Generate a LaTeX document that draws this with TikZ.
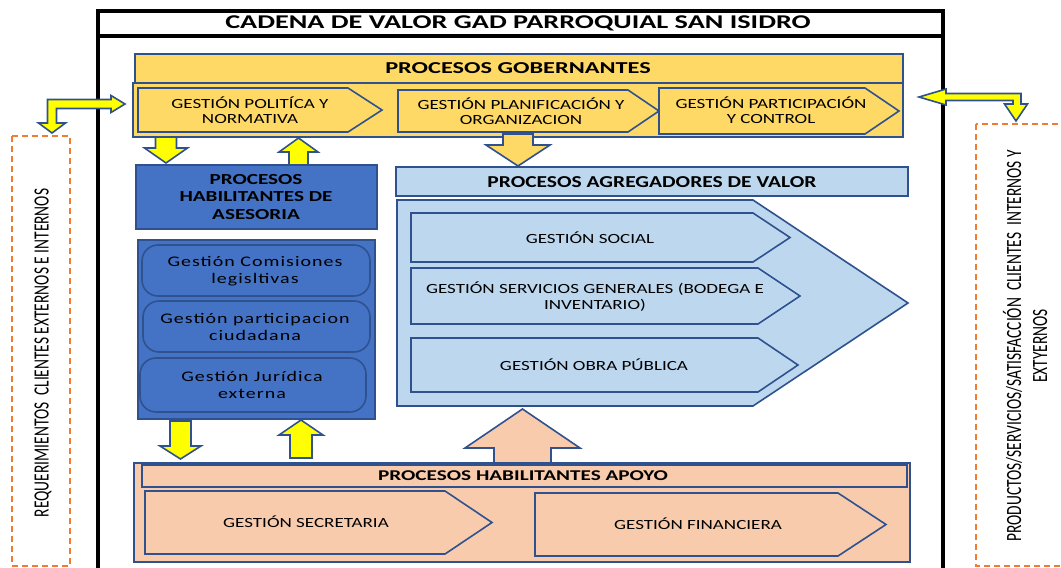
\documentclass[tikz,border=0pt]{standalone}
\usepackage{fontspec}
\setmainfont{Carlito}
\newfontfamily\fT{Carlito}[FakeStretch=1.45]
\newfontfamily\fGob{Carlito}[FakeStretch=1.46]
\newfontfamily\fAgr{Carlito}[FakeStretch=1.29]
\newfontfamily\fAse{Carlito}[FakeStretch=1.38]
\newfontfamily\fApo{Carlito}[FakeStretch=1.42]
\newfontfamily\fG{Carlito}[FakeStretch=1.36]
\newfontfamily\fR{Carlito}[FakeStretch=1.36,LetterSpace=7]
\newfontfamily\condf{Carlito}[FakeStretch=0.71]
\definecolor{bord}{HTML}{2F528F}
\definecolor{gold}{HTML}{FFD966}
\definecolor{dblue}{HTML}{4472C4}
\definecolor{lblue}{HTML}{BDD7EE}
\definecolor{peach}{HTML}{F8CBAD}
\definecolor{yel}{HTML}{FFFF00}
\definecolor{orng}{HTML}{ED7D31}
\newcommand\vblk[7]{%
  \draw[#1] (#2-#5,#3) -- (#2-#5,#4-#7) -- (#2-#6,#4-#7) -- (#2,#4) -- (#2+#6,#4-#7) -- (#2+#5,#4-#7) -- (#2+#5,#3) -- cycle;}
\newcommand\chev[6]{%
  \draw[#1] (#2,#3) -- (#4,#3) -- (#5,#6) -- (#4,{2*#6-#3}) -- (#2,{2*#6-#3}) -- cycle;}
\begin{document}
\begin{tikzpicture}[x=0.75pt,y=-0.75pt,
  shp/.style={draw=bord,line width=1.2pt,line join=miter},
  goldbox/.style={shp,fill=gold},
  dbox/.style={shp,fill=dblue},
  lbox/.style={shp,fill=lblue},
  pbox/.style={shp,fill=peach},
  yarrow/.style={shp,fill=yel},
  dashbox/.style={draw=orng,line width=1.5pt,dash pattern=on 4.5pt off 3pt},
  lbl/.style={align=center,inner sep=0pt,text=black},
  gobt/.style={lbl,font=\fG\fontsize{10.5}{11.6}\selectfont},
  agrt/.style={lbl,font=\fG\fontsize{10.5}{11.6}\selectfont},
  rndt/.style={lbl,font=\fR\fontsize{11}{13}\selectfont},
  apot/.style={lbl,font=\fG\fontsize{10.5}{12}\selectfont},
  sidet/.style={lbl,font=\condf\fontsize{16.3}{19.5}\selectfont,rotate=90}]
\useasboundingbox (0,0) rectangle (1061,568);
% side dashed boxes
\draw[dashbox] (12,136) rectangle (70,566);
\draw[dashbox] (976,124) rectangle (1075,566);
\node[sidet] (req) at (43,353) {REQUERIMIENTOS\ \ CLIENTES\ EXTERNOS\ E\ INTERNOS};
\node[sidet] (prod) at (1025,346) {PRODUCTOS/SERVICIOS/SATISFACCIÓN\ \ CLIENTES\ \ INTERNOS\ Y\\EXTYERNOS};
% main frame
\draw[line width=3pt] (98,11) rectangle (943,600);
\draw[line width=3pt] (98,35.5) -- (943,35.5);
\node[lbl,font=\fT\bfseries\fontsize{14.6}{16}\selectfont] (title) at (518,23) {CADENA DE VALOR GAD PARROQUIAL SAN ISIDRO};
% gobernantes
\draw[goldbox] (133,83) rectangle (903,137);
\draw[goldbox] (135,54) rectangle (903,83);
\node[lbl,font=\fGob\bfseries\fontsize{12.5}{14}\selectfont] (gob) at (518,68.5) {PROCESOS GOBERNANTES};
\chev{goldbox}{138}{88}{348}{382}{110}
\chev{goldbox}{398}{90}{628}{659}{111}
\chev{goldbox}{659}{88}{865}{899}{111}
\node[gobt] (pol) at (250,110) {GESTIÓN POLITÍCA Y\\NORMATIVA};
\node[gobt] (pla) at (521,111) {GESTIÓN PLANIFICACIÓN Y\\ORGANIZACION};
\node[gobt] (par) at (771,110) {GESTIÓN PARTICIPACIÓN\\Y CONTROL};
% bent arrows
\draw[yarrow] (125,104) -- (111,95.5) -- (111,99.5) -- (47.5,99.5) -- (47.5,123) -- (38.5,123) -- (52,133) -- (65.5,123) -- (56.5,123) -- (56.5,108.5) -- (111,108.5) -- (111,112.5) -- cycle;
\draw[yarrow] (919,97) -- (946,89) -- (946,93.5) -- (1021,93.5) -- (1021,104) -- (1027.5,104) -- (1016,121) -- (1004.5,104) -- (1013,104) -- (1013,100.5) -- (946,100.5) -- (946,105) -- cycle;
% arrows under gobernantes
\vblk{yarrow}{166}{137}{163}{10.5}{21.5}{15}
\vblk{yarrow}{298.5}{165}{138}{9.5}{19.5}{-14}
\vblk{goldbox}{518}{134}{166}{15}{32}{21}
% asesoria
\draw[dbox] (136,165) rectangle (377,229);
\node[lbl,font=\fAse\bfseries\fontsize{11.5}{12.8}\selectfont] (ase) at (256,197) {PROCESOS\\HABILITANTES DE\\ASESORIA};
\draw[dbox] (138,240) rectangle (375,419);
\draw[dbox,rounded corners=12pt] (142,245) rectangle (370,296);
\draw[dbox,rounded corners=12pt] (143,301) rectangle (370,352);
\draw[dbox,rounded corners=12pt] (140,358) rectangle (366,412);
\node[rndt] (com) at (255,271) {Gestión Comisiones\\legisltivas};
\node[rndt] (ciu) at (255,327) {Gestión participacion\\ciudadana};
\node[rndt] (jur) at (252,385) {Gestión Jurídica\\externa};
% agregadores
\draw[lbox] (396,167) rectangle (908,196);
\node[lbl,font=\fAgr\bfseries\fontsize{12.5}{14}\selectfont] (agr) at (652,182) {PROCESOS AGREGADORES DE VALOR};
\draw[lbox] (397,200) -- (753,200) -- (908,303) -- (753,406) -- (397,406) -- cycle;
\chev{lbox}{411}{213}{753}{790}{237.5}
\chev{lbox}{411}{268}{758}{800}{296}
\chev{lbox}{411}{338}{758}{798}{365}
\node[agrt] (soc) at (590,238) {GESTIÓN SOCIAL};
\node[agrt] (ser) at (595,296.5) {GESTIÓN SERVICIOS GENERALES (BODEGA E\\INVENTARIO)};
\node[agrt] (obr) at (594,365) {GESTIÓN OBRA PÚBLICA};
% arrows above apoyo
\vblk{yarrow}{180.5}{421}{459}{10.5}{20.5}{13}
\vblk{yarrow}{301}{458}{420}{11}{22}{-15}
\vblk{pbox}{522.5}{463}{409}{28.5}{57.5}{-39}
% apoyo
\draw[pbox] (134,463) rectangle (910,562);
\draw[pbox] (142,465) rectangle (907,487);
\node[lbl,font=\fApo\bfseries\fontsize{11.2}{13}\selectfont] (apo) at (523,476) {PROCESOS HABILITANTES APOYO};
\chev{pbox}{145}{491}{445}{492}{522.5}
\chev{pbox}{535}{493}{838}{886}{524.5}
\node[apot] (sec) at (306,522) {GESTIÓN SECRETARIA};
\node[apot] (fin) at (698,524) {GESTIÓN FINANCIERA};
\end{tikzpicture}
\end{document}
